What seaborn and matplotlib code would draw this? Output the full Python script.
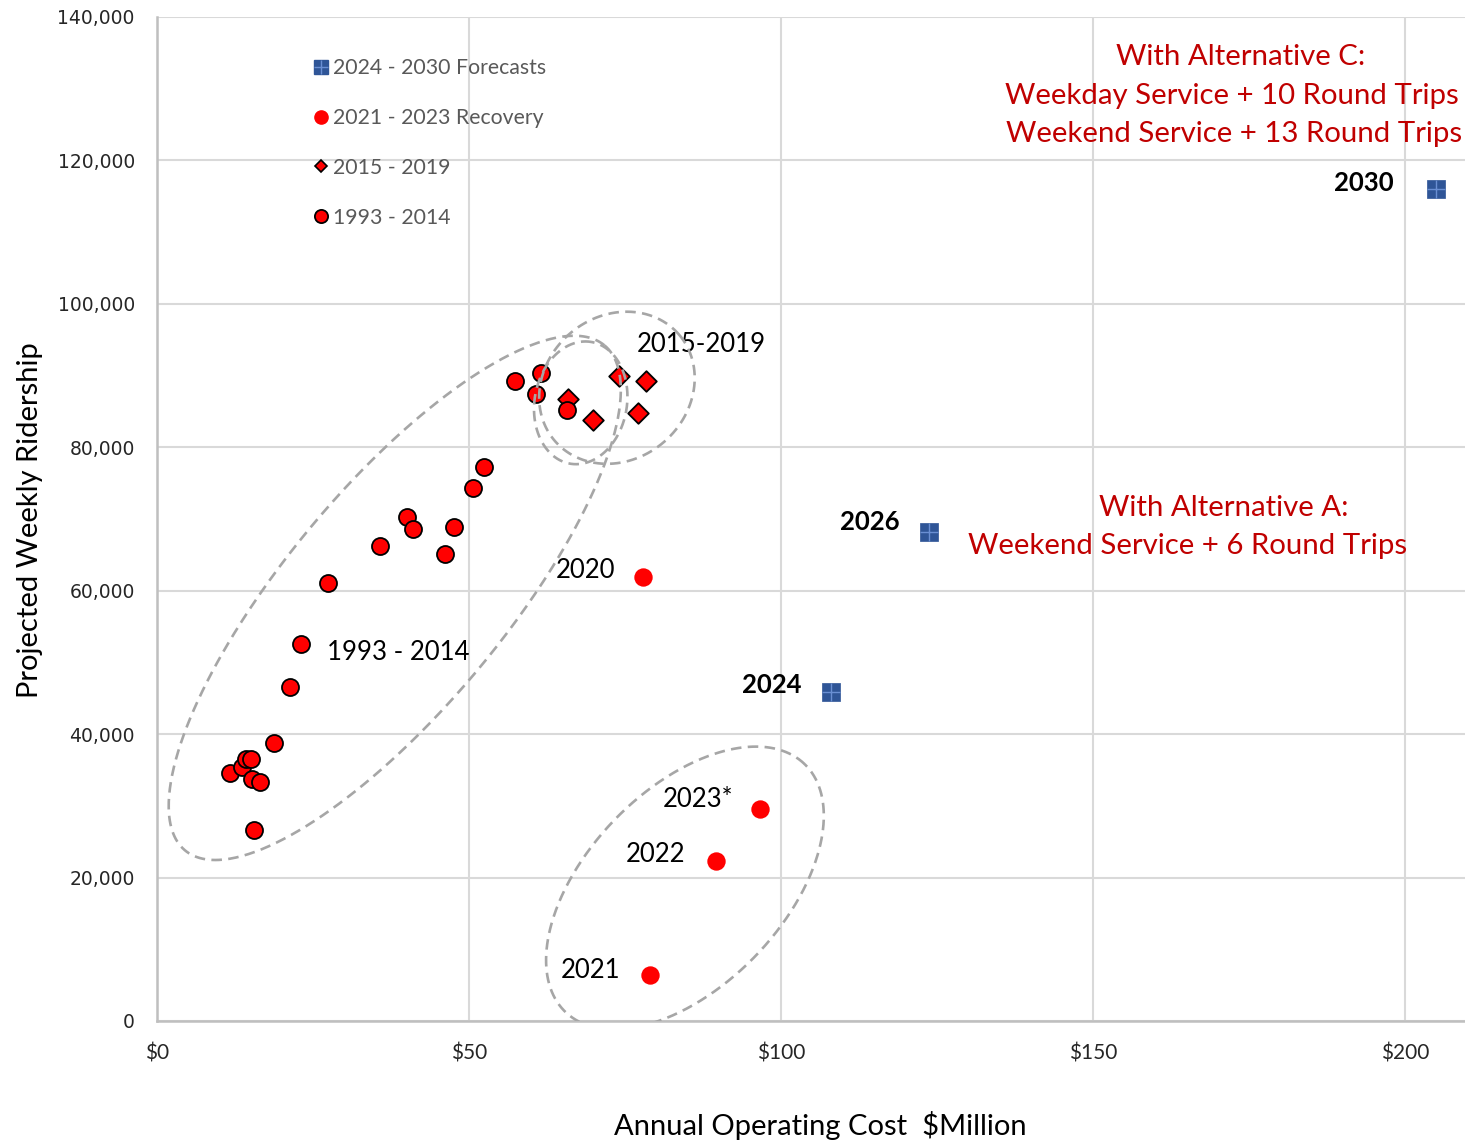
import numpy as np
import pandas as pd
import matplotlib
matplotlib.use("Agg")
import matplotlib.pyplot as plt
import seaborn as sns
from matplotlib.lines import Line2D
from matplotlib.legend_handler import HandlerTuple
from matplotlib.ticker import FuncFormatter

# ---- data: annual operating cost ($M) vs weekly ridership ----
hist_cost = [11.7, 13.6, 14.3, 15.0, 15.3, 16.5, 15.6, 18.7, 21.3, 23.1, 27.4,
             35.7, 40.0, 41.0, 46.2, 47.6, 50.6, 52.4, 57.4, 61.5, 60.8, 65.7]
hist_riders = [34550, 35400, 36600, 36500, 33750, 33350, 26700, 38700, 46600, 52600, 61100,
               66250, 70300, 68600, 65100, 68900, 74350, 77250, 89300, 90400, 87500, 85200]

mid_cost = [65.8, 69.9, 74.0, 78.4, 77.0]
mid_riders = [86800, 83750, 90000, 89200, 84800]

rec_years = ["2020", "2021", "2022", "2023*"]
rec_cost = [77.9, 79.0, 89.6, 96.6]
rec_riders = [61900, 6400, 22300, 29600]

fc_years = ["2024", "2026", "2030"]
fc_cost = [108.0, 123.7, 205.0]
fc_riders = [45900, 68200, 116000]

legend_labels = ["2024 - 2030 Forecasts", "2021 - 2023 Recovery", "2015 - 2019", "1993 - 2014"]
x_ticks = [0, 50, 100, 150, 200]
y_ticks = [0, 20000, 40000, 60000, 80000, 100000, 120000, 140000]

# grouping outlines: centre ($M, riders), semi-axes ($M-equivalent), rotation (deg)
groups = [
    (38.1, 59000, 52.6, 17.6, 50.3),
    (73.7, 88300, 13.1, 11.5, 40.0),
    (67.9, 86200, 9.9, 7.4, 80.0),
    (84.6, 18550, 27.6, 15.7, 46.0),
]

sns.set_theme(style="white")
plt.rcParams["font.family"] = ["Lato", "DejaVu Sans"]

W, H = 1465, 1141
fig = plt.figure(figsize=(W / 100, H / 100), dpi=100)
ax_l, ax_b, ax_w, ax_h = 157, 120, 1308, 1004
ax = fig.add_axes([ax_l / W, ax_b / H, ax_w / W, ax_h / H])
XMAX, YMAX = 209.6, 140000
ax.set_xlim(0, XMAX)
ax.set_ylim(0, YMAX)

red = "#FF0000"
blue = "#2F5597"
blue_light = "#6A8FD3"

df_hist = pd.DataFrame({"cost": hist_cost, "riders": hist_riders})
df_mid = pd.DataFrame({"cost": mid_cost, "riders": mid_riders})
df_rec = pd.DataFrame({"cost": rec_cost, "riders": rec_riders, "year": rec_years})
df_fc = pd.DataFrame({"cost": fc_cost, "riders": fc_riders, "year": fc_years})

sns.scatterplot(data=df_mid, x="cost", y="riders", ax=ax, marker="D", s=110,
                color=red, edgecolor="black", linewidth=1.3, zorder=3, legend=False)
sns.scatterplot(data=df_hist, x="cost", y="riders", ax=ax, marker="o", s=150,
                color=red, edgecolor="black", linewidth=1.3, zorder=4, legend=False)
sns.scatterplot(data=df_rec, x="cost", y="riders", ax=ax, marker="o", s=175,
                color=red, edgecolor=red, linewidth=0, zorder=4, legend=False)
sns.scatterplot(data=df_fc, x="cost", y="riders", ax=ax, marker="s", s=150,
                color=blue, edgecolor=blue, linewidth=0.5, zorder=4, legend=False)
ax.scatter(df_fc["cost"], df_fc["riders"], marker="+", s=150, color=blue_light,
           linewidths=1.0, zorder=5)

# dashed outlines around the groups, drawn in screen-proportional units
k = (YMAX / ax_h) / (XMAX / ax_w)
t = np.linspace(0, 2 * np.pi, 500)
for cx, cy, a, b, ang in groups:
    th = np.deg2rad(ang)
    ex = a * np.cos(t) * np.cos(th) - b * np.sin(t) * np.sin(th)
    ey = a * np.cos(t) * np.sin(th) + b * np.sin(t) * np.cos(th)
    ax.plot(cx + ex, cy + ey * k, color="#A6A6A6", lw=1.9,
            linestyle=(0, (4, 2.4)), zorder=6, solid_capstyle="butt")

# point labels (offsets in pixels, left of each marker)
lab_font = dict(fontsize=18.5, color="black")
rec_offsets = [(-28, 7), (-30, 5), (-31, 7), (-27, 9)]
fc_offsets = [(-29, 7), (-29, 10), (-43, 6)]
for (_, r), off in zip(df_rec.iterrows(), rec_offsets):
    ax.annotate(r["year"], (r["cost"], r["riders"]), xytext=off,
                textcoords="offset pixels", ha="right", va="center", **lab_font)
for (_, r), off in zip(df_fc.iterrows(), fc_offsets):
    ax.annotate(r["year"], (r["cost"], r["riders"]), xytext=off,
                textcoords="offset pixels", ha="right", va="center",
                fontweight="bold", **lab_font)
ax.text(87.3, 94400, "2015-2019", ha="center", va="center", **lab_font)
ax.text(38.6, 51450, "1993 - 2014", ha="center", va="center", **lab_font)

# alternative notes
note_red = "#C00000"
note_font = dict(fontsize=21.2, color=note_red, ha="center", va="center")
ax.text(173.7, 134400, "With Alternative C:", **note_font)
ax.text(172.3, 129000, "Weekday Service + 10 Round Trips", **note_font)
ax.text(172.6, 123700, "Weekend Service + 13 Round Trips", **note_font)
ax.text(171.0, 71550, "With Alternative A:", **note_font)
ax.text(165.2, 66250, "Weekend Service + 6 Round Trips", **note_font)

# axes styling
ax.set_xticks(x_ticks)
ax.set_yticks(y_ticks)
ax.xaxis.set_major_formatter(FuncFormatter(lambda v, p: f"${v:.0f}"))
ax.yaxis.set_major_formatter(FuncFormatter(lambda v, p: f"{v:,.0f}"))
ax.grid(True, color="#D9D9D9", lw=1.5)
ax.set_axisbelow(True)
for s in ["top", "right"]:
    ax.spines[s].set_visible(False)
for s in ["left", "bottom"]:
    ax.spines[s].set_color("#BFBFBF")
    ax.spines[s].set_linewidth(1.8)
ax.tick_params(axis="both", length=0)
ax.tick_params(axis="y", pad=16, labelsize=13.5, labelcolor="#262626")
ax.tick_params(axis="x", pad=16, labelsize=15, labelcolor="#262626")
for lbl in ax.get_yticklabels():
    lbl.set_fontfamily("DejaVu Sans")

ax.set_xlabel("Annual Operating Cost  $Million", fontsize=21, color="black")
ax.set_ylabel("Projected Weekly Ridership", fontsize=21, color="black")
ax.xaxis.set_label_coords((820 - ax_l) / ax_w, (1021 - 1126) / ax_h)
ax.yaxis.set_label_coords((30 - ax_l) / ax_w, (1021 - 520) / ax_h)
ax.xaxis.label.set_va("center")
ax.yaxis.label.set_va("center")

# legend
h_fc = (Line2D([], [], marker="s", ls="none", ms=10, mfc=blue, mec=blue),
        Line2D([], [], marker="+", ls="none", ms=10, mec=blue_light, mew=1.0))
h_rec = Line2D([], [], marker="o", ls="none", ms=9.5, mfc=red, mec=red)
h_mid = Line2D([], [], marker="D", ls="none", ms=6.5, mfc=red, mec="black", mew=1.2)
h_hist = Line2D([], [], marker="o", ls="none", ms=9.5, mfc=red, mec="black", mew=1.3)
ax.legend([h_fc, h_rec, h_mid, h_hist], legend_labels,
          handler_map={tuple: HandlerTuple(ndivide=1, pad=0)},
          loc="upper left", bbox_to_anchor=((314 - ax_l) / ax_w, (1021 - 58) / ax_h),
          frameon=False, borderaxespad=0, borderpad=0, handlelength=0.65,
          handletextpad=0.25, labelspacing=1.41, fontsize=15.3, labelcolor="#595959")

fig.savefig("out.png", dpi=100, facecolor="white")
